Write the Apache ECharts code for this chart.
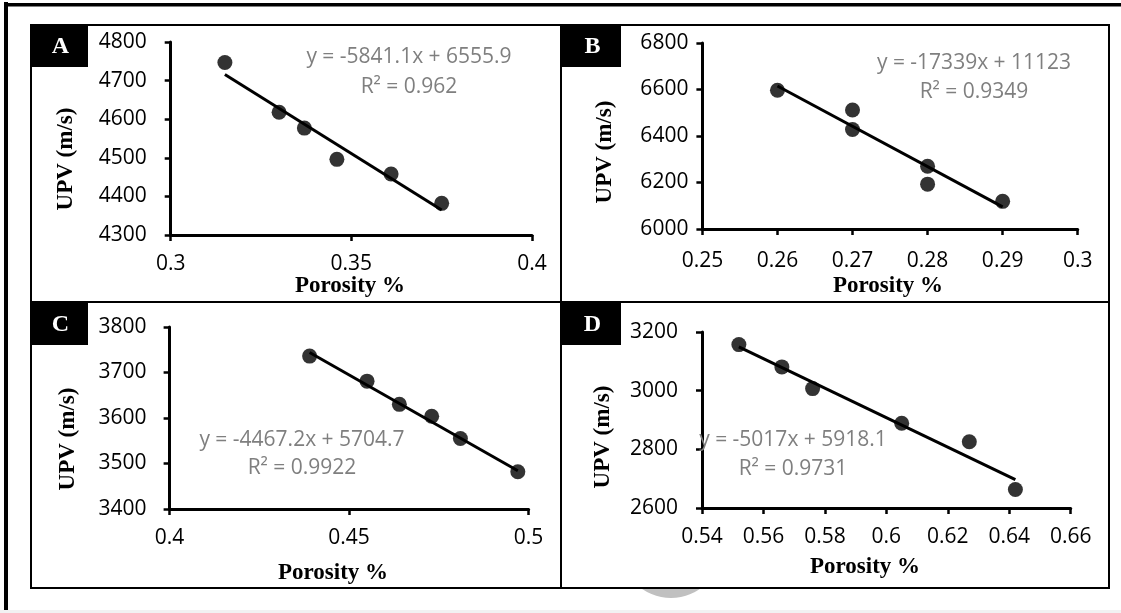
<!DOCTYPE html>
<html><head><meta charset="utf-8">
<script src="https://cdn.jsdelivr.net/npm/echarts@6/dist/echarts.min.js"></script>
<style>html,body{margin:0;padding:0;background:#fff}#c{width:1121px;height:613px}</style>
</head><body><div id="c"></div>
<script>
// ---- data ----
const porosityA = [0.315, 0.33, 0.337, 0.346, 0.361, 0.375];
const upvA      = [4747, 4618, 4577, 4496, 4458, 4382];
const trendA    = [[0.315, 4716], [0.375, 4365]];
const eqA       = ['y = -5841.1x + 6555.9', 'R\u00B2 = 0.962'];

const porosityB = [0.26, 0.27, 0.27, 0.28, 0.28, 0.29];
const upvB      = [6597, 6512, 6428, 6270, 6193, 6119];
const trendB    = [[0.26, 6615], [0.29, 6095]];
const eqB       = ['y = -17339x + 11123', 'R\u00B2 = 0.9349'];

const porosityC = [0.439, 0.455, 0.464, 0.473, 0.481, 0.497];
const upvC      = [3736, 3681, 3630, 3604, 3555, 3482];
const trendC    = [[0.439, 3744], [0.497, 3484]];
const eqC       = ['y = -4467.2x + 5704.7', 'R\u00B2 = 0.9922'];

const porosityD = [0.552, 0.566, 0.576, 0.605, 0.627, 0.642];
const upvD      = [3157, 3081, 3007, 2889, 2826, 2663];
const trendD    = [[0.552, 3149], [0.642, 2697]];
const eqD       = ['y = -5017x + 5918.1', 'R\u00B2 = 0.9731'];

const xTicksA = [0.3, 0.4, 0.05], yTicksA = [4300, 4800, 100];
const xTicksB = [0.25, 0.3, 0.01], yTicksB = [6000, 6800, 200];
const xTicksC = [0.4, 0.5, 0.05], yTicksC = [3400, 3800, 100];
const xTicksD = [0.54, 0.66, 0.02], yTicksD = [2600, 3200, 200];

const panelLabels = ['A', 'B', 'C', 'D'];
const xTitle = 'Porosity %';
const yTitle = 'UPV (m/s)';

// ---- layout ----
const grids = [
  {left: 170.7, top: 42,  width: 361.3, height: 193},
  {left: 702.4, top: 43,  width: 375.3, height: 186},
  {left: 169.6, top: 327, width: 359,   height: 182},
  {left: 702,   top: 332, width: 368.7, height: 176}
];
const yLabelMargin = [24, 14, 23, 24];
const xLabelMargin = [19, 22, 19, 19];
const panels = [[31, 25, 530, 277], [561, 25, 548, 277], [31, 302, 530, 286], [561, 302, 548, 286]];
const labelBoxes = [[31, 25, 57, 42], [562, 25, 59, 42], [31, 302, 57, 43], [562, 302, 59, 43]];
const yNamePos = [[66, 159], [604.6, 152], [68, 439], [603, 437]];
const xNamePos = [[350, 286], [888, 286], [333, 573], [865, 567]];
const eqPos = [[409, 57, 87], [974, 63, 92], [302, 440, 468], [793, 440, 469]];

const xs = [porosityA, porosityB, porosityC, porosityD];
const ys = [upvA, upvB, upvC, upvD];
const trends = [trendA, trendB, trendC, trendD];
const eqs = [eqA, eqB, eqC, eqD];
const xT = [xTicksA, xTicksB, xTicksC, xTicksD];
const yT = [yTicksA, yTicksB, yTicksC, yTicksD];

const tickFont = {fontFamily: 'Open Sans', fontSize: 21, color: '#000'};
const axisLine = {lineStyle: {color: '#000', width: 3}};

const xAxis = [], yAxis = [], series = [], graphic = [];
graphic.push({type: 'rect', z: 0, shape: {x: 0, y: 610, width: 1121, height: 3}, style: {fill: '#f2f2f2'}});
graphic.push({type: 'circle', z: 0, shape: {cx: 671, cy: 547, r: 51}, style: {fill: '#c0c0c0'}});
graphic.push({type: 'rect', z: 1, shape: {x: 4, y: 2, width: 4, height: 608}, style: {fill: '#000'}});
graphic.push({type: 'rect', z: 1, shape: {x: 4, y: 3, width: 1117, height: 3.5}, style: {fill: '#000'}});

for (let i = 0; i < 4; i++) {
  const p = panels[i];
  graphic.push({type: 'rect', z: 1, shape: {x: p[0], y: p[1], width: p[2], height: p[3]},
    style: {fill: '#fff', stroke: '#000', lineWidth: 2}});
  const b = labelBoxes[i];
  graphic.push({type: 'rect', z: 2, shape: {x: b[0], y: b[1], width: b[2], height: b[3]}, style: {fill: '#000'}});
  graphic.push({type: 'text', z: 3, x: b[0] + b[2] / 2 + 1, y: b[1] + b[3] / 2 + 1,
    style: {text: panelLabels[i], fill: '#fff', font: 'bold 24px "Liberation Serif"', textAlign: 'center', textVerticalAlign: 'middle'}});
  graphic.push({type: 'text', z: 3, x: yNamePos[i][0], y: yNamePos[i][1], rotation: Math.PI / 2,
    style: {text: yTitle, fill: '#000', font: 'bold 23px "Liberation Serif"', textAlign: 'center', textVerticalAlign: 'middle'}});
  graphic.push({type: 'text', z: 3, x: xNamePos[i][0], y: xNamePos[i][1],
    style: {text: xTitle, fill: '#000', font: 'bold 23px "Liberation Serif"', textAlign: 'center', textVerticalAlign: 'middle'}});
  graphic.push({type: 'text', z: 20, x: eqPos[i][0], y: eqPos[i][1],
    style: {text: eqs[i][0], fill: '#7f7f7f', font: '21px "Open Sans"', textAlign: 'center', textVerticalAlign: 'middle'}});
  graphic.push({type: 'text', z: 20, x: eqPos[i][0], y: eqPos[i][2],
    style: {text: eqs[i][1], fill: '#7f7f7f', font: '21px "Open Sans"', textAlign: 'center', textVerticalAlign: 'middle'}});

  xAxis.push({gridIndex: i, type: 'value', min: xT[i][0], max: xT[i][1], interval: xT[i][2], z: 10,
    axisLine: {show: true, onZero: false, lineStyle: axisLine.lineStyle},
    axisTick: {show: true, inside: false, length: 6, lineStyle: {color: '#000', width: 2.5}},
    splitLine: {show: false},
    axisLabel: Object.assign({margin: xLabelMargin[i], showMinLabel: true, showMaxLabel: true,
      formatter: v => String(parseFloat(v.toFixed(3)))}, tickFont)});
  yAxis.push({gridIndex: i, type: 'value', min: yT[i][0], max: yT[i][1], interval: yT[i][2], z: 10,
    axisLine: {show: true, onZero: false, lineStyle: axisLine.lineStyle},
    axisTick: {show: true, inside: false, length: 6, lineStyle: {color: '#000', width: 2.5}},
    splitLine: {show: false},
    axisLabel: Object.assign({margin: yLabelMargin[i], formatter: v => String(v)}, tickFont)});

  series.push({type: 'line', xAxisIndex: i, yAxisIndex: i, z: 11, data: trends[i], symbol: 'none',
    lineStyle: {color: '#000', width: 3}, silent: true, animation: false});
  series.push({type: 'scatter', xAxisIndex: i, yAxisIndex: i, z: 12,
    data: xs[i].map((x, k) => [x, ys[i][k]]), symbol: 'circle', symbolSize: 15,
    itemStyle: {color: '#000'}, animation: false});
}

const chart = echarts.init(document.getElementById('c'), null, {renderer: 'canvas'});
chart.setOption({
  animation: false,
  backgroundColor: '#fff',
  grid: grids.map(g => Object.assign({containLabel: false}, g)),
  xAxis, yAxis, series, graphic
});
</script>
</body></html>
